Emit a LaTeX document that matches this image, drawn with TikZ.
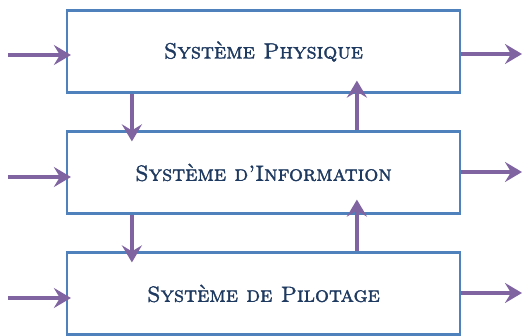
\documentclass[tikz,border=0pt]{standalone}
\usepackage{fontspec}
\setmainfont{Latin Modern Roman}[SmallCapsFont={Latin Modern Roman Caps},SmallCapsFeatures={FakeBold=1.6}]
\usetikzlibrary{arrows.meta,calc}
\definecolor{boxblue}{HTML}{4F81BD}
\definecolor{arrpurple}{HTML}{8064A2}
\definecolor{txtnavy}{HTML}{1F3A60}
\begin{document}
\begin{tikzpicture}[x=1pt,y=-1pt,
  sysbox/.style={draw=boxblue,line width=2.2pt,fill=white,rectangle,minimum width=393pt,minimum height=82pt,inner sep=0pt,text=txtnavy,font=\fontsize{22}{24}\selectfont\scshape},
  arr/.style={draw=arrpurple,line width=3.6pt,-{Stealth[length=17pt,width=20pt,inset=6pt]}}]
\useasboundingbox (0,0) rectangle (523,336);
\node[sysbox] (b1) at (263.5,51.5) {Système Physique};
\node[sysbox] (b2) at (263.5,172.5) {Système d’Information};
\node[sysbox] (b3) at (263.5,293.5) {Système de Pilotage};
% inputs
\coordinate (i1) at (8,55);
\coordinate (i2) at (8,177);
\coordinate (i3) at (8,298);
\draw[arr] (i1) -- (b1.west |- i1) -- ++(5,0);
\draw[arr] (i2) -- (b2.west |- i2) -- ++(5,0);
\draw[arr] (i3) -- (b3.west |- i3) -- ++(5,0);
% outputs
\coordinate (o1) at (522,54);
\coordinate (o2) at (522,172);
\coordinate (o3) at (522,293);
\draw[arr] (b1.east |- o1) -- (o1);
\draw[arr] (b2.east |- o2) -- (o2);
\draw[arr] (b3.east |- o3) -- (o3);
% vertical
\draw[arr] ($(b1.south west)+(66,0)$) -- ($(b2.north west)+(66,11)$);
\draw[arr] ($(b2.south west)+(66,0)$) -- ($(b3.north west)+(66,11)$);
\draw[arr] ($(b2.north west)+(291,0)$) -- ($(b1.south west)+(291,-13)$);
\draw[arr] ($(b3.north west)+(291,0)$) -- ($(b2.south west)+(291,-15)$);
\end{tikzpicture}
\end{document}
